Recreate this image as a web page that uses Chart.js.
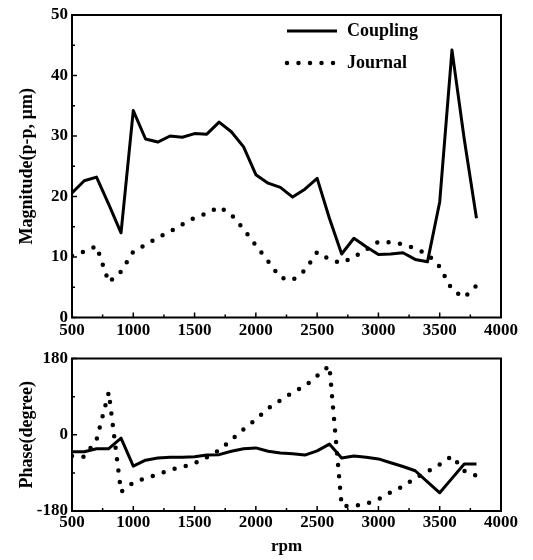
<!DOCTYPE html>
<html>
<head>
<meta charset="utf-8">
<script src="https://cdn.jsdelivr.net/npm/chart.js@4.4.0/dist/chart.umd.min.js"></script>
<style>
    html, body { margin: 0; padding: 0; background: #fff; }
    #wrap { position: relative; width: 533px; height: 560px; }
    #magChart, #phaseChart { position: absolute; left: 0; }
    #magChart { top: 0; }
    #phaseChart { top: 340px; }
</style>
</head>
<body>
<div id="wrap">
    <canvas id="magChart" width="533" height="345"></canvas>
    <canvas id="phaseChart" width="533" height="220"></canvas>
</div>
<script>
'use strict';

// rotor speed, one sample every 100 rpm
var rpm = [500, 600, 700, 800, 900, 1000, 1100, 1200, 1300, 1400, 1500, 1600,
    1700, 1800, 1900, 2000, 2100, 2200, 2300, 2400, 2500, 2600, 2700, 2800,
    2900, 3000, 3100, 3200, 3300, 3400, 3500, 3600, 3700, 3800];

// magnitude, p-p um
var couplingMag = [20.6, 22.6, 23.2, 18.7, 14.0, 34.2, 29.5, 29.0, 30.0, 29.8, 30.4, 30.3,
    32.3, 30.7, 28.2, 23.6, 22.2, 21.5, 19.9, 21.2, 23.0, 16.4, 10.5, 13.1,
    11.7, 10.4, 10.5, 10.7, 9.6, 9.2, 19.1, 44.2, 29.5, 16.4];
var journalMag = [10.2, 10.9, 11.8, 5.8, 7.6, 10.9, 12.0, 13.2, 14.2, 15.4, 16.5, 17.2,
    18.3, 17.0, 14.6, 11.9, 9.3, 6.6, 6.2, 7.8, 10.8, 9.6, 9.0, 10.0,
    11.2, 12.5, 12.4, 12.1, 11.4, 10.5, 8.4, 4.6, 3.3, 5.3];

// phase, degree
var couplingPhase = [-40, -40, -33, -33, -8, -74, -60, -55, -53, -53, -52, -48,
    -47, -39, -33, -31, -39, -43, -45, -48, -38, -22, -55, -50,
    -53, -57, -66, -75, -85, -111, -137, -103, -69, -69];
var journalPhase = [-50, -52, -12, 100, -135, -113, -102, -94, -83, -76, -67, -53,
    -37, -12, 13, 36, 62, 81, 100, 115, 139, 163, -168, -168,
    -163, -152, -136, -122, -102, -87, -70, -50, -85, -97];

var seriesNames = ['Coupling', 'Journal'];
var rpmRange = [500, 4000];
var magRange = [0, 50];
var phaseRange = [-180, 180];

var FAMILY = '"Liberation Serif", "DejaVu Serif", serif';
var tickFont = { family: FAMILY, size: 17, weight: 'bold' };
var titleFont = { family: FAMILY, size: 18, weight: 'bold' };

function points(ys) {
    return rpm.map(function(r, i) {
        return { x: r, y: ys[i] };
    });
}

function plainNumber(v) {
    return String(v);
}

function solidSet(label, ys) {
    return {
        label: label,
        data: points(ys),
        borderColor: '#000',
        borderWidth: 3,
        borderJoinStyle: 'round',
        pointRadius: 0,
        tension: 0
    };
}

function dottedSet(label, ys) {
    return {
        label: label,
        data: points(ys),
        borderColor: '#000',
        borderWidth: 4.5,
        borderDash: [0, 11.5],
        borderCapStyle: 'round',
        borderJoinStyle: 'round',
        pointRadius: 0,
        tension: 0
    };
}

// box round the plot plus small inward tick marks
var frameTicks = {
    id: 'frameTicks',
    afterDatasetsDraw: function(chart, args, opts) {
        var ctx = chart.ctx,
            a = chart.chartArea,
            xs = chart.scales.x,
            ys = chart.scales.y,
            v, p;
        ctx.save();
        ctx.strokeStyle = '#000';
        ctx.lineWidth = 2;
        ctx.strokeRect(a.left, a.top, a.right - a.left, a.bottom - a.top);
        ctx.lineWidth = 1.5;
        ctx.beginPath();
        for (v = xs.min; v <= xs.max; v += opts.xMinor) {
            p = xs.getPixelForValue(v);
            ctx.moveTo(p, a.bottom);
            ctx.lineTo(p, a.bottom - (v % opts.xMajor === 0 ? 5 : 3));
        }
        for (v = ys.min; v <= ys.max; v += opts.yMinor) {
            p = ys.getPixelForValue(v);
            ctx.moveTo(a.left, p);
            ctx.lineTo(a.left + (v % opts.yMajor === 0 ? 5 : 3), p);
        }
        ctx.stroke();
        ctx.restore();
    }
};

// legend sitting inside the upper plot
var innerLegend = {
    id: 'innerLegend',
    afterDraw: function(chart, args, opts) {
        if (!opts.show) {
            return;
        }
        var ctx = chart.ctx,
            a = chart.chartArea;
        chart.data.datasets.forEach(function(ds, i) {
            var x0 = a.left + 215,
                y = a.top + 16 + i * 32;
            ctx.save();
            ctx.strokeStyle = ds.borderColor;
            ctx.lineWidth = ds.borderWidth;
            ctx.lineCap = ds.borderCapStyle || 'butt';
            ctx.setLineDash(ds.borderDash || []);
            ctx.beginPath();
            ctx.moveTo(x0, y);
            ctx.lineTo(x0 + 50, y);
            ctx.stroke();
            ctx.setLineDash([]);
            ctx.fillStyle = '#000';
            ctx.font = 'bold 18px ' + FAMILY;
            ctx.textBaseline = 'middle';
            ctx.fillText(ds.label, x0 + 60, y);
            ctx.restore();
        });
    }
};

function makeChart(id, cfg) {
    return new Chart(document.getElementById(id), {
        type: 'line',
        data: { datasets: cfg.datasets },
        plugins: [frameTicks, innerLegend],
        options: {
            responsive: false,
            animation: false,
            events: [],
            layout: { padding: { top: cfg.padTop, right: 32, bottom: 0, left: 0 } },
            plugins: {
                legend: { display: false },
                tooltip: { enabled: false },
                frameTicks: { xMinor: 250, xMajor: 500, yMinor: cfg.yMinor, yMajor: cfg.yStep },
                innerLegend: { show: cfg.legend }
            },
            scales: {
                x: {
                    type: 'linear',
                    min: rpmRange[0],
                    max: rpmRange[1],
                    grid: { display: false, drawTicks: false },
                    border: { display: false },
                    ticks: {
                        stepSize: 500,
                        padding: cfg.xPad,
                        color: '#000',
                        font: tickFont,
                        maxRotation: 0,
                        callback: plainNumber
                    },
                    title: {
                        display: !!cfg.xTitle,
                        text: cfg.xTitle || '',
                        color: '#000',
                        font: { family: FAMILY, size: 17, weight: 'bold' },
                        padding: { top: 0, bottom: 3 }
                    },
                    afterFit: function(s) { s.height = cfg.xHeight; }
                },
                y: {
                    min: cfg.yRange[0],
                    max: cfg.yRange[1],
                    grid: { display: false, drawTicks: false },
                    border: { display: false },
                    ticks: {
                        stepSize: cfg.yStep,
                        padding: 4,
                        color: '#000',
                        font: tickFont,
                        callback: plainNumber
                    },
                    title: {
                        display: true,
                        text: cfg.yTitle,
                        color: '#000',
                        font: titleFont,
                        padding: { top: 17, bottom: 0 }
                    },
                    afterFit: function(s) { s.width = 72; }
                }
            }
        }
    });
}

makeChart('magChart', {
    datasets: [solidSet(seriesNames[0], couplingMag), dottedSet(seriesNames[1], journalMag)],
    padTop: 15,
    xHeight: 27.5,
    xPad: 3,
    yRange: magRange,
    yStep: 10,
    yMinor: 5,
    yTitle: 'Magnitude(p-p, \u00b5m)',
    legend: true
});

makeChart('phaseChart', {
    datasets: [solidSet(seriesNames[0], couplingPhase), dottedSet(seriesNames[1], journalPhase)],
    padTop: 18.5,
    xHeight: 49,
    xPad: 1,
    yRange: phaseRange,
    yStep: 180,
    yMinor: 90,
    yTitle: 'Phase(degree)',
    xTitle: 'rpm',
    legend: false
});
</script>
</body>
</html>
